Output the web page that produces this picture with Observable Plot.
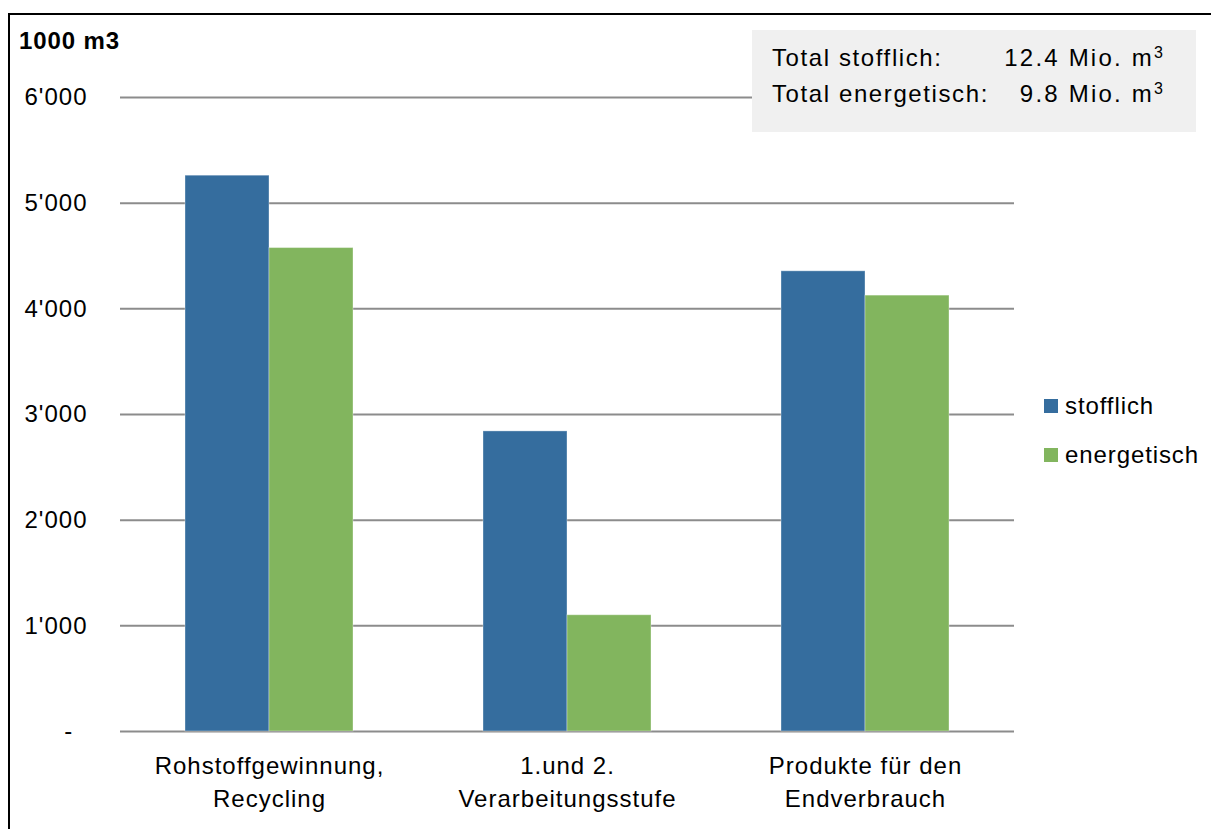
<!DOCTYPE html>
<html>
<head>
<meta charset="utf-8">
<script src="https://cdn.jsdelivr.net/npm/d3@7"></script>
<script src="https://cdn.jsdelivr.net/npm/@observablehq/plot@0.6"></script>
<style>
  body { margin: 0; background: #fff; }
  #chart { position: relative; width: 1211px; height: 829px; overflow: hidden;
           font-family: "Liberation Sans", Arial, sans-serif; color: #000; }
  #chart svg { position: absolute; left: 0; top: 0; }
  #frame { position: absolute; left: 8px; top: 13px; width: 1220px; height: 830px;
           border-left: 2px solid #000; border-top: 2px solid #000; }
  #unit { position: absolute; left: 19px; top: 27px; font-size: 24px; font-weight: bold; letter-spacing: 0.9px; }
  #totals { position: absolute; left: 752px; top: 30px; width: 444px; height: 102px; background: #f0f0f0; }
  #totals .row { position: absolute; left: 20px; width: 393px; font-size: 24px; letter-spacing: 1.6px; }
  #totals .row .v { position: absolute; right: 0; top: 0; letter-spacing: 2.2px; }
  #totals sup { font-size: 16px; vertical-align: 8px; line-height: 0; }
  .legend { position: absolute; left: 1044px; font-size: 24px; letter-spacing: 0.9px; }
  .legend .sw { position: absolute; left: 0; width: 14px; height: 14px; }
  .legend .lab { position: absolute; left: 21px; white-space: nowrap; }
</style>
</head>
<body>
<div id="chart"></div>
<script>
// Stages of the wood flow and the two kinds of use (values in 1000 m3)
const stages = ["Rohstoffgewinnung, Recycling", "1.und 2. Verarbeitungsstufe", "Produkte für den Endverbrauch"];
const stageLabels = ["Rohstoffgewinnung,\nRecycling", "1.und 2.\nVerarbeitungsstufe", "Produkte für den\nEndverbrauch"];
const series = ["stofflich", "energetisch"];
const stofflich = [5260, 2840, 4355];
const energetisch = [4575, 1100, 4125];
const yTicks = [0, 1000, 2000, 3000, 4000, 5000, 6000];
const totalLabels = ["Total stofflich:", "Total energetisch:"];
const totalValues = ["12.4", "9.8"];
const colors = ["#356d9e", "#82b55e"];

const rows = [];
stages.forEach((s, i) => {
  rows.push({stage: s, series: series[0], value: stofflich[i]});
  rows.push({stage: s, series: series[1], value: energetisch[i]});
});
const labelRows = stages.map((s, i) => ({stage: s, label: stageLabels[i]}));

// thousands separator as apostrophe, zero shown as a dash
const fmtTick = d => d === 0 ? "-\u2007" : d3.format(",")(d).replace(/,/g, "'");

const chart = Plot.plot({
  width: 1211,
  height: 829,
  marginLeft: 120,
  marginRight: 197,
  marginTop: 97,
  marginBottom: 98,
  style: {fontFamily: "'Liberation Sans', Arial, sans-serif", fontSize: "24px", background: "transparent", overflow: "visible"},
  fx: {domain: stages, padding: 0, axis: null},
  x: {domain: series, paddingInner: 0, paddingOuter: 0.753, axis: null},
  y: {domain: [0, 6000], axis: null},
  color: {domain: series, range: colors},
  marks: [
    Plot.ruleY(yTicks, {stroke: "#8c8c8c", strokeWidth: 2}),
    Plot.barY(rows, {fx: "stage", x: "series", y: "value", fill: "series",
                     stroke: "#ffffff", strokeOpacity: 0.35, strokeWidth: 1}),
    Plot.axisY({ticks: yTicks, tickSize: 0, tickPadding: 33, tickFormat: fmtTick,
                fontSize: 24, fill: "#000", label: null}),
    Plot.text(labelRows, {fx: "stage", text: "label", frameAnchor: "bottom",
                          lineAnchor: "top", dy: 19, lineHeight: 1.38, fontSize: 24, fill: "#000"})
  ]
});
chart.querySelectorAll("text").forEach(t => t.style.letterSpacing = "1px");

const root = document.getElementById("chart");
root.appendChild(chart);

const frame = document.createElement("div");
frame.id = "frame";
root.appendChild(frame);

const unit = document.createElement("div");
unit.id = "unit";
unit.textContent = "1000 m3";
root.appendChild(unit);

// summary box with the totals per kind of use
const box = document.createElement("div");
box.id = "totals";
totalLabels.forEach((lab, i) => {
  const r = document.createElement("div");
  r.className = "row";
  r.style.top = (i === 0 ? 14 : 50) + "px";
  r.innerHTML = `<span>${lab}</span><span class="v">${totalValues[i]} Mio. m<sup>3</sup></span>`;
  box.appendChild(r);
});
root.appendChild(box);

// legend
series.forEach((s, i) => {
  const g = document.createElement("div");
  g.className = "legend";
  g.style.top = (i === 0 ? 392 : 441) + "px";
  g.innerHTML = `<div class="sw" style="top:7px;background:${colors[i]}"></div><div class="lab">${s}</div>`;
  root.appendChild(g);
});
</script>
</body>
</html>
